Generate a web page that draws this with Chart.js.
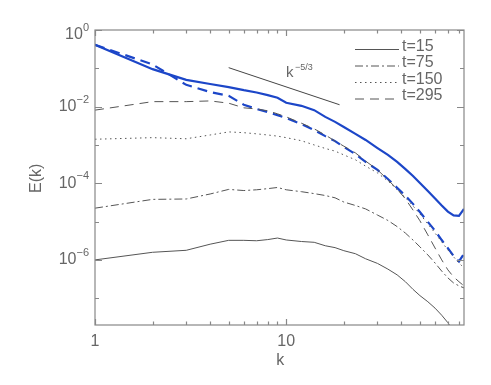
<!DOCTYPE html>
<html>
<head>
<meta charset="utf-8">
<script src="https://cdn.jsdelivr.net/npm/chart.js"></script>
<style>
    body { margin: 0; background: #fff; }
</style>
</head>
<body>
<canvas id="spectrum" width="491" height="385"></canvas>
<script>
// wavenumbers the spectra are sampled at
const kValues = [1, 2, 3, 4, 5, 6, 7, 8, 9, 10, 12, 14, 16, 18, 20, 23, 26, 30, 34, 38, 42, 46, 50, 55, 60, 65, 70, 75, 80, 85];

// E(k), gray curves (one per time)
const eT15 = [1.0e-6, 1.58e-6, 1.78e-6, 2.57e-6, 3.24e-6, 3.24e-6, 3.16e-6, 3.39e-6, 3.72e-6, 3.31e-6, 3.02e-6, 2.88e-6, 2.34e-6, 2.09e-6, 1.74e-6, 1.45e-6, 1.07e-6, 8.1e-7, 5.75e-7, 4.07e-7, 2.69e-7, 1.7e-7, 1.17e-7, 8.1e-8, 5.5e-8, 3.6e-8, 2.3e-8, 1.4e-8, 8.9e-9, 5.6e-9];
const eT75 = [2.24e-5, 3.8e-5, 3.89e-5, 5.25e-5, 6.92e-5, 6.46e-5, 6.76e-5, 7.24e-5, 7.76e-5, 6.76e-5, 6.03e-5, 5.37e-5, 4.79e-5, 4.17e-5, 3.24e-5, 2.63e-5, 2.14e-5, 1.48e-5, 1.07e-5, 7.4e-6, 5.0e-6, 3.3e-6, 2.19e-6, 1.35e-6, 8.3e-7, 5.1e-7, 3.4e-7, 2.5e-7, 2.1e-7, 1.86e-7];
const eT150 = [1.41e-3, 1.55e-3, 1.45e-3, 1.82e-3, 2.19e-3, 2.09e-3, 1.95e-3, 1.82e-3, 1.7e-3, 1.55e-3, 1.29e-3, 1.0e-3, 8.1e-4, 6.9e-4, 5.5e-4, 4.1e-4, 2.8e-4, 1.86e-4, 1.15e-4, 6.8e-5, 4.2e-5, 2.57e-5, 1.58e-5, 8.7e-6, 5.0e-6, 2.95e-6, 1.82e-6, 1.2e-6, 8.3e-7, 6.2e-7];
const eT295 = [8.1e-3, 1.35e-2, 1.35e-2, 1.41e-2, 1.23e-2, 9.3e-3, 8.7e-3, 7.8e-3, 6.5e-3, 5.4e-3, 3.7e-3, 2.63e-3, 1.82e-3, 1.26e-3, 9.3e-4, 6.2e-4, 3.8e-4, 2.24e-4, 1.23e-4, 7.1e-5, 3.9e-5, 2.0e-5, 1.05e-5, 4.5e-6, 2.04e-6, 1.0e-6, 5.5e-7, 3.6e-7, 2.7e-7, 2.1e-7];

// blue curves
const eBlueSolid = [0.41, 9.5e-2, 5.0e-2, 3.9e-2, 3.24e-2, 2.69e-2, 2.34e-2, 2.0e-2, 1.7e-2, 1.26e-2, 1.05e-2, 8.1e-3, 5.4e-3, 4.0e-3, 2.95e-3, 1.95e-3, 1.35e-3, 8.3e-4, 5.5e-4, 3.6e-4, 2.34e-4, 1.55e-4, 1.02e-4, 6.3e-5, 4.0e-5, 2.63e-5, 1.82e-5, 1.45e-5, 1.41e-5, 2.14e-5];
const eBlueDashed = [0.41, 0.126, 3.7e-2, 2.4e-2, 1.91e-2, 1.12e-2, 8.7e-3, 7.2e-3, 6.0e-3, 5.0e-3, 3.5e-3, 2.45e-3, 1.7e-3, 1.26e-3, 8.9e-4, 5.75e-4, 3.6e-4, 2.24e-4, 1.29e-4, 7.6e-5, 4.7e-5, 2.9e-5, 1.78e-5, 9.8e-6, 5.75e-6, 3.3e-6, 2.04e-6, 1.26e-6, 9.1e-7, 1.45e-6];

// k^-5/3 guide segment
const slopeK = [5, 19];
const slopeE = [0.104, 0.0112];

const legendLabels = ['t=15', 't=75', 't=150', 't=295'];

// axis ticks
const xMajorTicks = [1, 10];
const xMinorTicks = [2, 3, 4, 5, 6, 7, 8, 9, 20, 30, 40, 50, 60, 70, 80];
const xTickLabels = ['1', '10'];
const yMajorTicks = [1, 1e-2, 1e-4, 1e-6];
const yMinorTicks = [1e-1, 1e-3, 1e-5, 1e-7];
const yTickExponents = ['0', '\u22122', '\u22124', '\u22126'];

const gray = '#555';
const blue = '#1c46c8';
const axisColor = '#888';
const textColor = '#666';
const fontFamily = '"Liberation Sans", Arial, sans-serif';

function points(values) {
    return kValues.map((k, i) => ({x: k, y: values[i]}));
}

// frame, inward ticks, labels and legend drawn on top of the data
const framePlugin = {
    id: 'frame',
    afterDatasetsDraw(chart) {
        const ctx = chart.ctx;
        const a = chart.chartArea;
        const xs = chart.scales.x;
        const ys = chart.scales.y;

        ctx.save();
        ctx.strokeStyle = axisColor;
        ctx.lineWidth = 1.2;
        ctx.setLineDash([]);
        ctx.strokeRect(a.left, a.top, a.right - a.left, a.bottom - a.top);

        ctx.beginPath();
        xMajorTicks.concat(xMinorTicks).forEach(v => {
            let px = Math.round(xs.getPixelForValue(v)) + 0.5;
            let len = xMajorTicks.includes(v) ? 6 : 3.5;
            ctx.moveTo(px, a.bottom);
            ctx.lineTo(px, a.bottom - len);
            ctx.moveTo(px, a.top);
            ctx.lineTo(px, a.top + len);
        });
        yMajorTicks.concat(yMinorTicks).forEach(v => {
            let py = Math.round(ys.getPixelForValue(v)) + 0.5;
            let len = yMajorTicks.includes(v) ? 7 : 4;
            ctx.moveTo(a.left, py);
            ctx.lineTo(a.left + len, py);
            ctx.moveTo(a.right, py);
            ctx.lineTo(a.right - len, py);
        });
        ctx.stroke();

        ctx.fillStyle = textColor;
        ctx.textBaseline = 'middle';

        // x tick labels
        ctx.font = '16px ' + fontFamily;
        ctx.textAlign = 'center';
        xMajorTicks.forEach((v, i) => {
            ctx.fillText(xTickLabels[i], xs.getPixelForValue(v), a.bottom + 17);
        });
        ctx.fillText('k', xs.getPixelForValue(10) - 6, a.bottom + 36);

        // y tick labels as 10 with a raised exponent
        yMajorTicks.forEach((v, i) => {
            let py = ys.getPixelForValue(v);
            if (i === 0) py += 5;
            ctx.font = '11px ' + fontFamily;
            let expW = ctx.measureText(yTickExponents[i]).width;
            ctx.textAlign = 'left';
            ctx.fillText(yTickExponents[i], a.left - 6 - expW, py - 7);
            ctx.font = '16px ' + fontFamily;
            ctx.textAlign = 'right';
            ctx.fillText('10', a.left - 6 - expW, py);
        });

        // y title
        ctx.save();
        ctx.translate(37, ys.getPixelForValue(1e-4) - 5);
        ctx.rotate(-Math.PI / 2);
        ctx.textAlign = 'center';
        ctx.font = '16px ' + fontFamily;
        ctx.fillText('E(k)', 0, 0);
        ctx.restore();

        // k^-5/3 label
        ctx.textAlign = 'left';
        ctx.textBaseline = 'alphabetic';
        ctx.font = '15px ' + fontFamily;
        ctx.fillText('k', 286, 77);
        ctx.font = '9px ' + fontFamily;
        ctx.fillText('\u22125/3', 295, 70);

        // legend
        legendLabels.forEach((label, i) => {
            let ds = chart.data.datasets[i];
            let y = 49.5 + i * 16.5;
            ctx.strokeStyle = ds.borderColor;
            ctx.lineWidth = ds.borderWidth;
            ctx.setLineDash(ds.borderDash || []);
            ctx.beginPath();
            ctx.moveTo(355, y);
            ctx.lineTo(399, y);
            ctx.stroke();
            ctx.setLineDash([]);
            ctx.font = '16px ' + fontFamily;
            ctx.fillStyle = textColor;
            ctx.fillText(label, 402, y + 1);
        });

        ctx.restore();
    }
};

new Chart(document.getElementById('spectrum'), {
    type: 'line',
    data: {
        datasets: [
            {label: legendLabels[0], data: points(eT15), borderColor: gray, borderWidth: 1, borderDash: []},
            {label: legendLabels[1], data: points(eT75), borderColor: gray, borderWidth: 1, borderDash: [8, 3, 2, 3]},
            {label: legendLabels[2], data: points(eT150), borderColor: gray, borderWidth: 1, borderDash: [1.5, 3.5]},
            {label: legendLabels[3], data: points(eT295), borderColor: gray, borderWidth: 1, borderDash: [9, 6]},
            {label: 'blue solid', data: points(eBlueSolid), borderColor: blue, borderWidth: 2.2, borderDash: []},
            {label: 'blue dashed', data: points(eBlueDashed), borderColor: blue, borderWidth: 2.2, borderDash: [10, 6]},
            {
                label: 'k-5/3',
                data: slopeK.map((k, i) => ({x: k, y: slopeE[i]})),
                borderColor: '#444',
                borderWidth: 1,
                borderDash: []
            }
        ]
    },
    options: {
        responsive: false,
        animation: false,
        layout: {
            padding: {left: 95, right: 27, top: 30, bottom: 60}
        },
        elements: {
            point: {radius: 0},
            line: {tension: 0, fill: false}
        },
        scales: {
            x: {type: 'logarithmic', min: 1, max: 85, display: false},
            y: {type: 'logarithmic', min: 2e-8, max: 1, display: false}
        },
        plugins: {
            legend: {display: false},
            tooltip: {enabled: false}
        }
    },
    plugins: [framePlugin]
});
</script>
</body>
</html>
